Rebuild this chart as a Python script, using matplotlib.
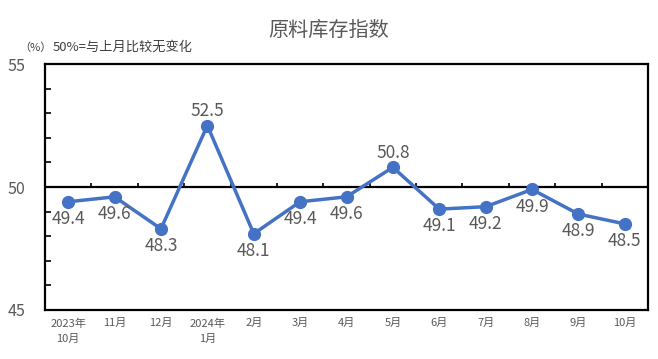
import matplotlib
matplotlib.use("Agg")
import matplotlib.pyplot as plt
from matplotlib.ticker import MultipleLocator

plt.rcParams['font.family'] = ['Noto Sans CJK SC', 'DejaVu Sans']

categories = ["2023年\n10月", "11月", "12月", "2024年\n1月", "2月", "3月", "4月",
              "5月", "6月", "7月", "8月", "9月", "10月"]
values = [49.4, 49.6, 48.3, 52.5, 48.1, 49.4, 49.6, 50.8, 49.1, 49.2, 49.9, 48.9, 48.5]
label_above = [False, False, False, True, False, False, False, True, False, False, False, False, False]
y_ticks = [45, 50, 55]

fig = plt.figure(figsize=(6.58, 3.59), dpi=100)
ax = fig.add_axes([0.0684, 0.1365, 0.9164, 0.6852])

x = list(range(len(values)))
ax.set_xlim(-0.5, len(values) - 0.5)
ax.set_ylim(45, 55)

for s in ax.spines.values():
    s.set_linewidth(1.6)
    s.set_color('black')

ax.axhline(50, color='black', lw=1.6, zorder=2)
# category boundary ticks on the 50 line
for k in range(1, len(values)):
    ax.plot([k - 0.5, k - 0.5], [50, 50.17], color='black', lw=1.2, zorder=2, solid_capstyle='butt')

ax.plot(x, values, color='#4472C4', lw=2.5, marker='o', markersize=8.5, zorder=3)

for xi, v, up in zip(x, values, label_above):
    if up:
        ax.annotate(f"{v}", (xi, v), xytext=(0, 4), textcoords='offset points',
                    ha='center', va='bottom', fontsize=12.5, color='#595959', fontweight='light')
    else:
        ax.annotate(f"{v}", (xi, v), xytext=(0, -6), textcoords='offset points',
                    ha='center', va='top', fontsize=12.5, color='#595959', fontweight='light')

ax.set_yticks(y_ticks)
ax.set_yticklabels([str(t) for t in y_ticks], fontsize=11.5, color='#595959', fontweight='light')
ax.yaxis.set_minor_locator(MultipleLocator(1))
ax.tick_params(axis='y', which='major', length=0, pad=14)
ax.tick_params(axis='y', which='minor', direction='in', length=4, width=1.2, color='black')

ax.set_xticks(x)
ax.set_xticklabels(categories, fontsize=8, color='#595959', linespacing=1.65)
ax.tick_params(axis='x', length=0, pad=6)

fig.text(0.5, 0.915, "原料库存指数", ha='center', va='center', fontsize=14.5, color='#595959')
fig.text(0.030, 0.868, "（%）", ha='left', va='center', fontsize=8, color='#404040')
fig.text(0.08, 0.868, "50%=与上月比较无变化", ha='left', va='center', fontsize=9.5, color='#404040')

fig.savefig("out.png", dpi=100)
